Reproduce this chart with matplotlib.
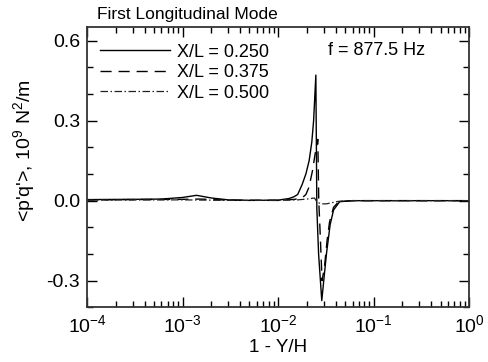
import numpy as np
import matplotlib
matplotlib.use("Agg")
import matplotlib.pyplot as plt
from matplotlib.ticker import LogLocator, MultipleLocator, NullFormatter

plt.rcParams['font.family'] = ['Liberation Sans', 'DejaVu Sans']
plt.rcParams['mathtext.fontset'] = 'custom'
plt.rcParams['mathtext.rm'] = 'Liberation Sans'
plt.rcParams['mathtext.it'] = 'Liberation Sans'

title_text = "First Longitudinal Mode"
freq_text = "f = 877.5 Hz"
labels = ["X/L = 0.250", "X/L = 0.375", "X/L = 0.500"]

# X/L = 0.250 (solid)
x1 = [1e-4, 3e-4, 6e-4, 1.0e-3, 1.4e-3, 2.0e-3, 3e-3, 5e-3, 1e-2, 1.3e-2, 1.45e-2,
      1.6e-2, 1.78e-2, 1.95e-2, 2.11e-2, 2.25e-2, 2.35e-2, 2.48e-2, 2.54e-2,
      2.65e-2, 2.86e-2, 3.0e-2, 3.2e-2, 3.5e-2, 3.8e-2, 4.4e-2, 6e-2, 1e-1, 1.0]
y1 = [0.004, 0.005, 0.006, 0.012, 0.020, 0.010, 0.003, 0.001, 0.002, 0.008, 0.014,
      0.023, 0.060, 0.100, 0.150, 0.220, 0.300, 0.471, -0.03,
      -0.20, -0.375, -0.30, -0.20, -0.09, -0.035, -0.004, 0.0, 0.0, 0.0]

# X/L = 0.375 (dashed)
x2 = [1e-4, 3e-4, 1e-3, 1.5e-3, 3e-3, 1e-2, 1.5e-2, 1.8e-2, 1.95e-2, 2.1e-2,
      2.28e-2, 2.45e-2, 2.6e-2, 2.66e-2, 2.75e-2, 2.88e-2, 3.05e-2, 3.25e-2,
      3.45e-2, 3.8e-2, 4.3e-2, 6e-2, 1e-1, 1.0]
y2 = [0.003, 0.004, 0.005, 0.006, 0.002, 0.001, 0.005, 0.012, 0.023, 0.050,
      0.110, 0.180, 0.230, 0.0, -0.12, -0.30, -0.25, -0.15,
      -0.08, -0.025, -0.004, 0.0, 0.0, 0.0]

# X/L = 0.500 (dash-dot)
x3 = [1e-4, 1e-3, 3e-3, 1e-2, 1.6e-2, 2.0e-2, 2.4e-2, 2.55e-2, 2.8e-2, 3.2e-2,
      3.6e-2, 4.2e-2, 5e-2, 1e-1, 1.0]
y3 = [0.002, 0.003, 0.001, 0.001, 0.003, 0.006, 0.010, -0.005, -0.012, -0.012,
      -0.008, -0.003, 0.0, 0.0, 0.0]

W, H = 488, 362
fig = plt.figure(figsize=(W / 100, H / 100), dpi=100)
ax = fig.add_axes([87 / W, 1 - 307.3 / H, (469.3 - 87) / W, (307.3 - 26.7) / H])

ax.plot(x1, y1, color='black', lw=1.0, ls='-', label=labels[0])
ax.plot(x2, y2, color='black', lw=1.0, ls=(0, (8, 5)), label=labels[1])
ax.plot(x3, y3, color='#222222', lw=0.9, ls=(0, (6, 2, 1.2, 2)), label=labels[2])

ax.set_xscale('log')
ax.set_xlim(1e-4, 1.0)
ax.set_ylim(-0.40, 0.6525)
ax.set_yticks([-0.3, 0.0, 0.3, 0.6])
ax.set_yticklabels(['-0.3', '0.0', '0.3', '0.6'])
ax.yaxis.set_minor_locator(MultipleLocator(0.1))
ax.xaxis.set_major_locator(LogLocator(base=10, numticks=10))
ax.xaxis.set_minor_locator(LogLocator(base=10, subs=np.arange(2, 10), numticks=20))
ax.xaxis.set_minor_formatter(NullFormatter())

ax.tick_params(which='both', direction='in', top=True, right=True, labelsize=14, pad=5, width=1.0)
ax.tick_params(which='major', length=7)
ax.tick_params(which='minor', length=4)
for s in ax.spines.values():
    s.set_linewidth(1.3)
    s.set_color('#333333')

ax.set_xlabel("1 - Y/H", fontsize=13.5, labelpad=2)
ax.set_ylabel("<p'q'>, 10$^9$ N$^2$/m", fontsize=14, labelpad=4)
ax.yaxis.set_label_coords(-0.13, 0.557)

fig.text(97 / W, 1 - 14 / H, title_text, fontsize=12.5, ha='left', va='center')
ax.text(0.63, 0.915, freq_text, transform=ax.transAxes, fontsize=13, ha='left', va='center')

ax.legend(loc='upper left', frameon=False, fontsize=13, handlelength=3.9,
          handletextpad=0.4, labelspacing=0.2, borderaxespad=0.3,
          bbox_to_anchor=(0.0, 0.985))

fig.savefig('out.png', dpi=100)
